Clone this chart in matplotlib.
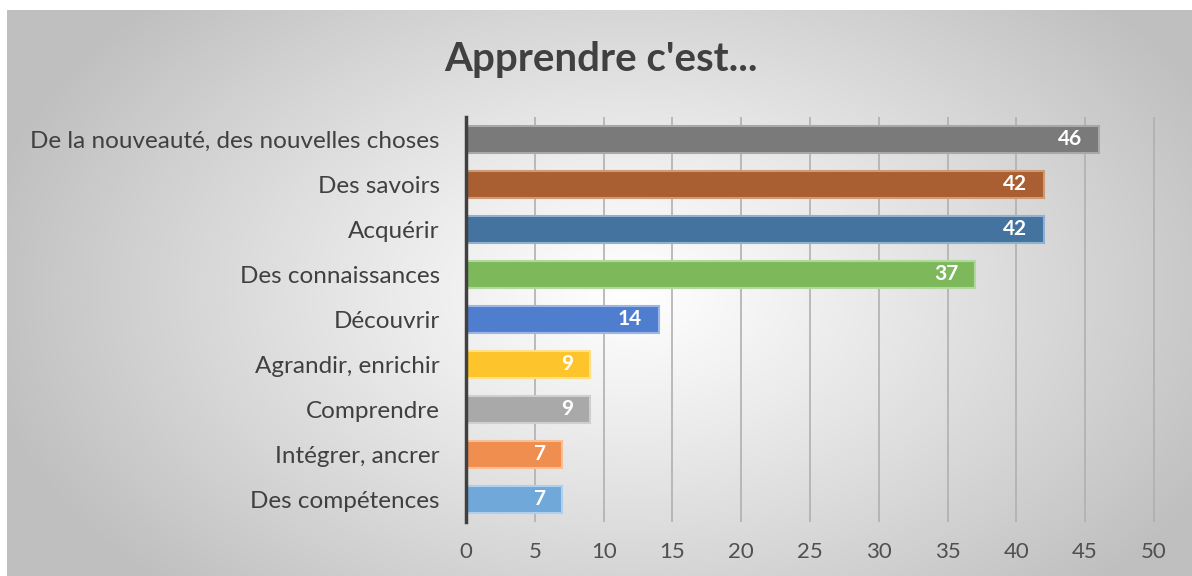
import matplotlib.pyplot as plt
import numpy as np

# data, top to bottom as displayed
categories = [
    "De la nouveauté, des nouvelles choses",
    "Des savoirs",
    "Acquérir",
    "Des connaissances",
    "Découvrir",
    "Agrandir, enrichir",
    "Comprendre",
    "Intégrer, ancrer",
    "Des compétences",
]
values = [46, 42, 42, 37, 14, 9, 9, 7, 7]
bar_colors = ["#7a7a7a", "#a95f31", "#44739f", "#7db95b", "#4f7ecf",
              "#fec42b", "#a9a9a9", "#ef8e4f", "#70a8da"]
edge_colors = ["#a8a8a8", "#cf9a78", "#8fb0cf", "#b3d89e", "#9ab5e6",
               "#ffe08a", "#cfcfcf", "#f7bf98", "#afcfee"]
xticks = list(range(0, 55, 5))

plt.rcParams["font.family"] = ["Lato", "DejaVu Sans"]

fig = plt.figure(figsize=(11.92, 5.76), dpi=100)

# radial gradient background
bg = fig.add_axes([7 / 1192, 0, 1 - 7 / 1192, 1 - 10 / 576])
w, h = 1185, 566
xx, yy = np.meshgrid(np.arange(w), np.arange(h))
t = np.sqrt(((xx - 620) / 660.0) ** 2 + ((yy - 280) / 420.0) ** 2)
shade = 255 - 64 * np.clip(t, 0, 1) ** 1.1
img = np.dstack([shade, shade, shade]) / 255.0
bg.imshow(img, aspect="auto", interpolation="bilinear")
bg.axis("off")

ax = fig.add_axes([0.391, 0.0946, 0.5805, 0.703])
ax.patch.set_alpha(0)
y = np.arange(len(categories))
ax.barh(y, values, height=0.6, color=bar_colors, edgecolor=edge_colors,
        linewidth=1.5, zorder=3)
for yi, v in zip(y, values):
    ax.annotate(str(v), (v, yi), xytext=(-12, 0), textcoords="offset points",
                ha="right", va="center", color="white", fontsize=15,
                fontweight="bold", zorder=4)

ax.set_ylim(len(categories) - 0.5, -0.5)
ax.set_xlim(0, 50.3)
ax.set_yticks(y)
ax.set_yticklabels(categories, fontsize=17.5, color="#404040")
ax.set_xticks(xticks)
ax.set_xticklabels([str(t) for t in xticks], fontsize=16, color="#505050")
ax.tick_params(axis="y", length=0, pad=19)
ax.tick_params(axis="x", length=0, pad=15)
ax.grid(axis="x", color="#b0b0b0", linewidth=1.2, zorder=0)
for s in ["top", "right", "bottom"]:
    ax.spines[s].set_visible(False)
ax.spines["left"].set_color("#404040")
ax.spines["left"].set_linewidth(2.5)
ax.spines["left"].set_zorder(5)

fig.text(601 / 1192, 1 - 60 / 576, "Apprendre c'est...", ha="center", va="center",
         fontsize=29, fontweight="bold", color="#404040")

fig.savefig("out.png", dpi=100)
